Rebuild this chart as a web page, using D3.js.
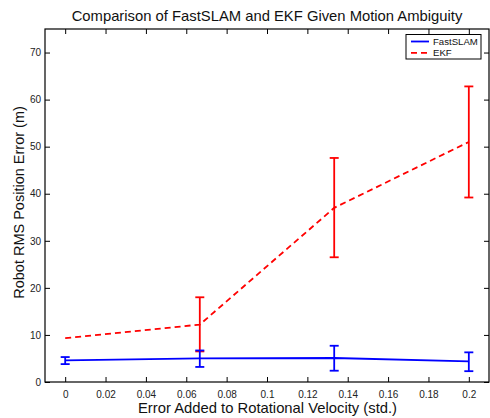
<!DOCTYPE html>
<html>
<head>
<meta charset="utf-8">
<script src="https://cdn.jsdelivr.net/npm/d3@7"></script>
<style>
  html, body { margin: 0; padding: 0; background: #fff; }
  svg { display: block; font-family: "Liberation Sans", Arial, sans-serif; }
</style>
</head>
<body>
<svg id="chart" width="490" height="418"></svg>
<script>
// Rotational velocity noise levels (std.)
const noiseLevels = [0, 0.0667, 0.1333, 0.2];

// FastSLAM RMS error: mean and error-bar limits (m)
const fastMean = [4.6, 5.0, 5.1, 4.4];
const fastLow  = [3.8, 3.2, 2.4, 2.3];
const fastHigh = [5.3, 6.7, 7.7, 6.3];

// EKF RMS error: mean and error-bar limits (m)
const ekfMean = [9.3, 12.2, 37.0, 51.0];
const ekfLow  = [9.3, 6.5, 26.5, 39.2];
const ekfHigh = [9.3, 18.0, 47.6, 62.8];

const xTicks = [0, 0.02, 0.04, 0.06, 0.08, 0.1, 0.12, 0.14, 0.16, 0.18, 0.2];
const xTickLabels = ["0", "0.02", "0.04", "0.06", "0.08", "0.1", "0.12", "0.14", "0.16", "0.18", "0.2"];
const yTicks = [0, 10, 20, 30, 40, 50, 60, 70];

const seriesNames = ["FastSLAM", "EKF"];
const seriesColors = ["#0000ff", "#ff0000"];

const svg = d3.select("#chart");
const plotL = 45, plotR = 489, plotT = 29, plotB = 382;

const x = d3.scaleLinear().domain([-0.01, 0.21]).range([plotL, plotR]);
const y = d3.scaleLinear().domain([0, 75]).range([plotB, plotT]);

// Axes with inward ticks on all four sides
const tickLen = 5;
svg.append("g").attr("transform", `translate(0,${plotB})`)
  .call(d3.axisBottom(x).tickValues(xTicks).tickFormat((d, i) => xTickLabels[i])
    .tickSizeInner(-tickLen).tickSizeOuter(0).tickPadding(9))
  .call(g => g.select(".domain").remove());
svg.append("g").attr("transform", `translate(0,${plotT})`)
  .call(d3.axisTop(x).tickValues(xTicks).tickFormat("").tickSizeInner(-tickLen).tickSizeOuter(0))
  .call(g => g.select(".domain").remove());
svg.append("g").attr("transform", `translate(${plotL},0)`)
  .call(d3.axisLeft(y).tickValues(yTicks).tickFormat(d3.format("d"))
    .tickSizeInner(-tickLen).tickSizeOuter(0).tickPadding(4))
  .call(g => g.select(".domain").remove());
svg.append("g").attr("transform", `translate(${plotR},0)`)
  .call(d3.axisRight(y).tickValues(yTicks).tickFormat("").tickSizeInner(-tickLen).tickSizeOuter(0))
  .call(g => g.select(".domain").remove());

svg.selectAll(".tick line").attr("stroke", "#000").attr("stroke-width", 1);
svg.selectAll(".tick text").attr("font-size", 10).attr("fill", "#222")
  .attr("font-family", "Liberation Sans, Arial, sans-serif");

// Plot frame
svg.append("rect").attr("x", plotL).attr("y", plotT)
  .attr("width", plotR - plotL).attr("height", plotB - plotT)
  .attr("fill", "none").attr("stroke", "#000").attr("stroke-width", 1.2);

// Series with error bars
function drawSeries(mean, low, high, color, dashed) {
  const g = svg.append("g");
  const line = d3.line().x((d, i) => x(noiseLevels[i])).y(d => y(d));
  g.append("path").datum(mean).attr("d", line)
    .attr("fill", "none").attr("stroke", color).attr("stroke-width", 1.8)
    .attr("stroke-dasharray", dashed ? "6,4" : null);
  const capW = 4.5;
  noiseLevels.forEach((xv, i) => {
    if (high[i] === low[i]) return;
    const cx = x(xv);
    g.append("line").attr("x1", cx).attr("x2", cx).attr("y1", y(low[i])).attr("y2", y(high[i]))
      .attr("stroke", color).attr("stroke-width", 1.8);
    [low[i], high[i]].forEach(v => {
      g.append("line").attr("x1", cx - capW).attr("x2", cx + capW).attr("y1", y(v)).attr("y2", y(v))
        .attr("stroke", color).attr("stroke-width", 1.8);
    });
  });
}
drawSeries(ekfMean, ekfLow, ekfHigh, seriesColors[1], true);
drawSeries(fastMean, fastLow, fastHigh, seriesColors[0], false);

// Legend
const lg = svg.append("g");
lg.append("rect").attr("x", 406).attr("y", 34.5).attr("width", 75).attr("height", 24.5)
  .attr("fill", "#fff").attr("stroke", "#000").attr("stroke-width", 1);
seriesNames.forEach((name, i) => {
  const ly = 41.5 + i * 11.3;
  lg.append("line").attr("x1", 411).attr("x2", 429).attr("y1", ly).attr("y2", ly)
    .attr("stroke", seriesColors[i]).attr("stroke-width", 1.8)
    .attr("stroke-dasharray", i === 1 ? "6,4" : null);
  lg.append("text").attr("x", 433).attr("y", ly + 3.4).attr("font-size", 9.6).attr("fill", "#111").text(name);
});

// Titles
svg.append("text").attr("x", (plotL + plotR) / 2).attr("y", 21).attr("text-anchor", "middle")
  .attr("font-size", 14.8).attr("fill", "#111")
  .text("Comparison of FastSLAM and EKF Given Motion Ambiguity");
svg.append("text").attr("x", (plotL + plotR) / 2 + 0.5).attr("y", 413).attr("text-anchor", "middle")
  .attr("font-size", 14.8).attr("fill", "#111")
  .text("Error Added to Rotational Velocity (std.)");
svg.append("text").attr("transform", `translate(24,${(plotT + plotB) / 2 - 3}) rotate(-90)`)
  .attr("text-anchor", "middle").attr("font-size", 14.5).attr("fill", "#111")
  .text("Robot RMS Position Error (m)");
</script>
</body>
</html>
